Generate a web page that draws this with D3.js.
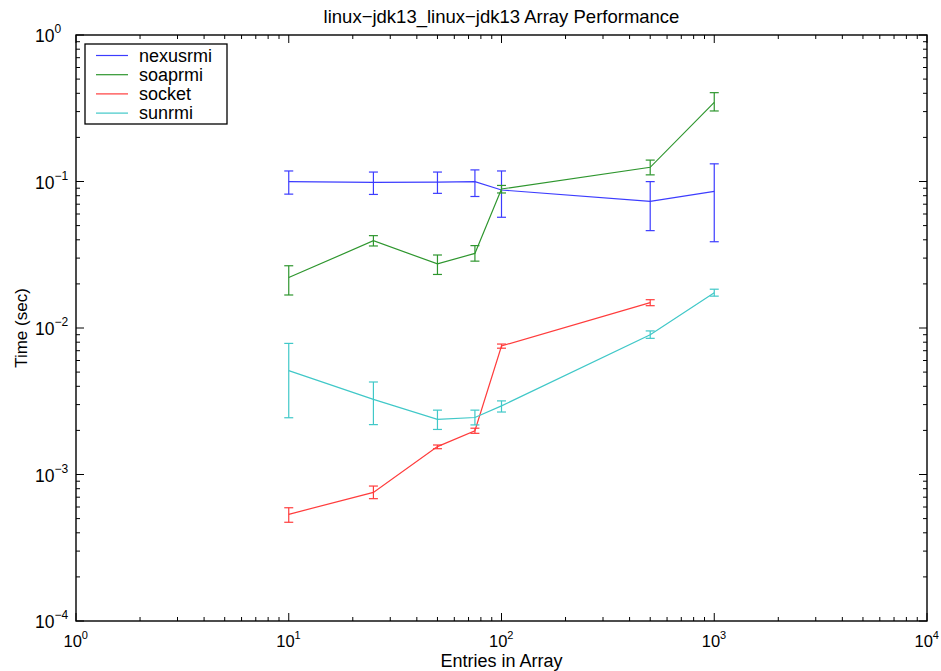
<!DOCTYPE html>
<html>
<head>
<meta charset="utf-8">
<script src="https://cdn.jsdelivr.net/npm/d3@7"></script>
<style>
  body { margin: 0; background: #fff; }
  text { font-family: "Liberation Sans", Arial, sans-serif; fill: #000; }
</style>
</head>
<body>
<div id="chart"></div>
<script>
const entries = [10, 25, 50, 75, 100, 500, 1000];

// [mean, low, high] per entry; null where no point
const nexusrmi = [[0.0998, 0.082, 0.118], [0.0985, 0.0816, 0.116], [0.099, 0.083, 0.116], [0.0998, 0.079, 0.120],
  [0.0875, 0.057, 0.118], [0.0732, 0.0462, 0.0998], [0.0857, 0.0388, 0.132]];
const soaprmi = [[0.0221, 0.0168, 0.0266], [0.0394, 0.0363, 0.0427], [0.0274, 0.0232, 0.0315], [0.0323, 0.0286, 0.0365],
  [0.0889, 0.0835, 0.094], [0.125, 0.111, 0.140], [0.347, 0.303, 0.404]];
const socket = [[0.000535, 0.000472, 0.000593], [0.000755, 0.000684, 0.000834], [0.00155, 0.0015, 0.00159], [0.00199, 0.00191, 0.00207],
  [0.00754, 0.00728, 0.00777], [0.0149, 0.0142, 0.0156], null];
const sunrmi = [[0.00512, 0.00244, 0.00785], [0.00326, 0.00219, 0.00428], [0.00238, 0.00203, 0.00275], [0.00245, 0.00218, 0.00275],
  [0.00294, 0.00267, 0.00318], [0.0090, 0.0085, 0.00955], [0.0174, 0.0165, 0.0184]];

const seriesNames = ['nexusrmi', 'soaprmi', 'socket', 'sunrmi'];
const seriesData = [nexusrmi, soaprmi, socket, sunrmi];
const seriesColors = ['#3c3cff', '#2e962e', '#ff3c3c', '#40c8c8'];

const xTickExps = [0, 1, 2, 3, 4];
const yTickExps = [0, -1, -2, -3, -4];

const W = 941, H = 671;
const margin = { top: 35, right: 14, bottom: 50, left: 76 };
const width = W - margin.left - margin.right;
const height = H - margin.top - margin.bottom;

const svg = d3.select('#chart').append('svg')
  .attr('width', W).attr('height', H);
const g = svg.append('g').attr('transform', `translate(${margin.left},${margin.top})`);

const x = d3.scaleLog().domain([1, 1e4]).range([0, width]);
const y = d3.scaleLog().domain([1e-4, 1]).range([height, 0]);

// minor + major tick values
const minorX = [], minorY = [];
for (let e = 0; e < 4; e++) for (let m = 2; m <= 9; m++) minorX.push(m * Math.pow(10, e));
for (let e = -4; e < 0; e++) for (let m = 2; m <= 9; m++) minorY.push(m * Math.pow(10, e));
const majorX = xTickExps.map(e => Math.pow(10, e));
const majorY = yTickExps.map(e => Math.pow(10, e));

const tickG = g.append('g').attr('stroke', '#000').attr('stroke-width', 1);
function ticks(vals, len) {
  vals.forEach(v => {
    const px = x(v);
    tickG.append('line').attr('x1', px).attr('x2', px).attr('y1', height).attr('y2', height - len);
    tickG.append('line').attr('x1', px).attr('x2', px).attr('y1', 0).attr('y2', len);
  });
}
function yticks(vals, len) {
  vals.forEach(v => {
    const py = y(v);
    tickG.append('line').attr('y1', py).attr('y2', py).attr('x1', 0).attr('x2', len);
    tickG.append('line').attr('y1', py).attr('y2', py).attr('x1', width).attr('x2', width - len);
  });
}
ticks(minorX, 4); ticks(majorX, 8);
yticks(minorY, 4); yticks(majorY, 8);

// frame
g.append('rect').attr('width', width).attr('height', height)
  .attr('fill', 'none').attr('stroke', '#000').attr('stroke-width', 1.4);

// tick labels
xTickExps.forEach(e => {
  const t = g.append('text').attr('x', x(Math.pow(10, e)) - 12.5).attr('y', height + 26)
    .style('font-size', '16.5px');
  t.append('tspan').text('10');
  t.append('tspan').attr('dy', -8).style('font-size', '11px').text(e);
});
yTickExps.forEach(e => {
  const t = g.append('text').attr('x', -41).attr('y', y(Math.pow(10, e)) + 7)
    .style('font-size', '17.5px');
  t.append('tspan').text('10');
  t.append('tspan').attr('dy', -9).style('font-size', '12px').text(e < 0 ? '\u2212' + (-e) : e);
});

// series
const line = d3.line()
  .defined(d => d.v)
  .x(d => x(d.n)).y(d => y(d.v[0]));

seriesData.forEach((s, i) => {
  const pts = s.map((v, j) => ({ n: entries[j], v }));
  const col = seriesColors[i];
  g.append('path').datum(pts)
    .attr('d', line).attr('fill', 'none').attr('stroke', col).attr('stroke-width', 1.2);
  const eb = g.append('g').attr('stroke', col).attr('stroke-width', 1.2);
  pts.filter(d => d.v).forEach(d => {
    const px = x(d.n);
    eb.append('line').attr('x1', px).attr('x2', px).attr('y1', y(d.v[1])).attr('y2', y(d.v[2]));
    eb.append('line').attr('x1', px - 4.5).attr('x2', px + 4.5).attr('y1', y(d.v[1])).attr('y2', y(d.v[1]));
    eb.append('line').attr('x1', px - 4.5).attr('x2', px + 4.5).attr('y1', y(d.v[2])).attr('y2', y(d.v[2]));
  });
});

// legend
const lg = g.append('g').attr('transform', 'translate(9,9)');
lg.append('rect').attr('width', 142).attr('height', 80)
  .attr('fill', '#fff').attr('stroke', '#000').attr('stroke-width', 1.3);
seriesNames.forEach((n, i) => {
  const ly = 11.5 + i * 19.2;
  lg.append('line').attr('x1', 11).attr('x2', 43).attr('y1', ly).attr('y2', ly)
    .attr('stroke', seriesColors[i]).attr('stroke-width', 1.2);
  lg.append('text').attr('x', 54).attr('y', ly + 6).style('font-size', '18px').text(n);
});

// titles
svg.append('text').attr('x', margin.left + width / 2).attr('y', 23)
  .attr('text-anchor', 'middle').style('font-size', '18.5px')
  .text('linux\u2212jdk13_linux\u2212jdk13 Array Performance');
svg.append('text').attr('x', margin.left + width / 2).attr('y', 667)
  .attr('text-anchor', 'middle').style('font-size', '18px').text('Entries in Array');
svg.append('text').attr('transform', `translate(27,${margin.top + height / 2}) rotate(-90)`)
  .attr('text-anchor', 'middle').style('font-size', '17px').text('Time (sec)');
</script>
</body>
</html>
